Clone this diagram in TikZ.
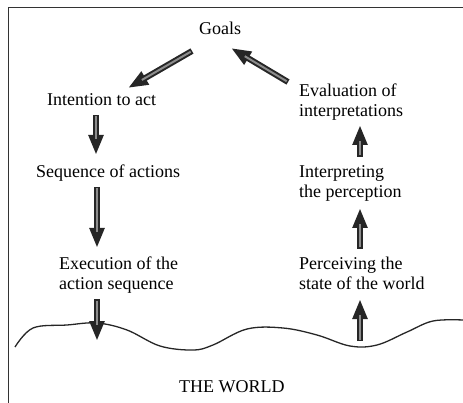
\documentclass[tikz,border=0pt]{standalone}
\usepackage{fontspec}
\setmainfont{Liberation Serif}
\usetikzlibrary{arrows.meta}
\tikzset{
  lbl/.style={inner sep=0pt, anchor=base west, align=left, font=\fontsize{18}{20}\selectfont},
  blk/.style={line width=6pt, black!85, -{Triangle[length=20pt,width=14pt]}},
  blkcore/.style={line width=2pt, black!45, shorten >=16pt, shorten <=1.5pt},
  frame/.style={line width=1pt, black!80},
  ground/.style={line width=1.3pt, black!85}
}
\newcommand{\blockarrow}[2]{%
  \draw[blk] (#1) -- (#2);
  \draw[blkcore] (#1) -- (#2);
}
\begin{document}
\begin{tikzpicture}[x=1pt,y=-1pt]
\useasboundingbox (0,0) rectangle (463,403);
\coordinate (ftr) at (463,8);
\coordinate (ftl) at (8,8);
\coordinate (fbl) at (8,403);
\draw[frame] (ftr) -- (ftl) -- (fbl);

\node[lbl] (goals) at (199,35) {Goals};
\node[lbl] (intent) at (47,106) {Intention to act};
\node[lbl] (seq) at (36,178) {Sequence of actions};
\node[lbl] (exec) at (59,290) {Execution of the\\action sequence};
\node[lbl] (eval) at (299,117) {Evaluation of\\interpretations};
\node[lbl] (interp) at (299,198) {Interpreting\\the perception};
\node[lbl] (perc) at (299,290) {Perceiving the\\state of the world};
\node[lbl] (world) at (179,392) {THE WORLD};

\draw[ground] plot[smooth, tension=0.6] coordinates {
 (15,347) (33,328) (67,325) (97,323) (127,330) (160,346) (193,350) (213,345)
 (247,329) (283,328) (317,335) (350,346) (377,345) (407,332) (433,321) (463,320)};

% arrow end points
\coordinate (g1) at (192,51);  \coordinate (i1) at (128,88);
\coordinate (e1) at (288,82);  \coordinate (g2) at (231,48);
\coordinate (i2) at (96,115);  \coordinate (s1) at (96,155);
\coordinate (s2) at (97,187);  \coordinate (x1) at (97,248);
\coordinate (x2) at (97,299);  \coordinate (w1) at (97,341);
\coordinate (w2) at (360,341); \coordinate (p1) at (360,299);
\coordinate (p2) at (360,249); \coordinate (n1) at (360,208);
\coordinate (n2) at (360,157); \coordinate (e2) at (360,125);

\blockarrow{g1}{i1}
\blockarrow{e1}{g2}
\blockarrow{i2}{s1}
\blockarrow{s2}{x1}
\blockarrow{x2}{w1}
\blockarrow{w2}{p1}
\blockarrow{p2}{n1}
\blockarrow{n2}{e2}
\end{tikzpicture}
\end{document}
